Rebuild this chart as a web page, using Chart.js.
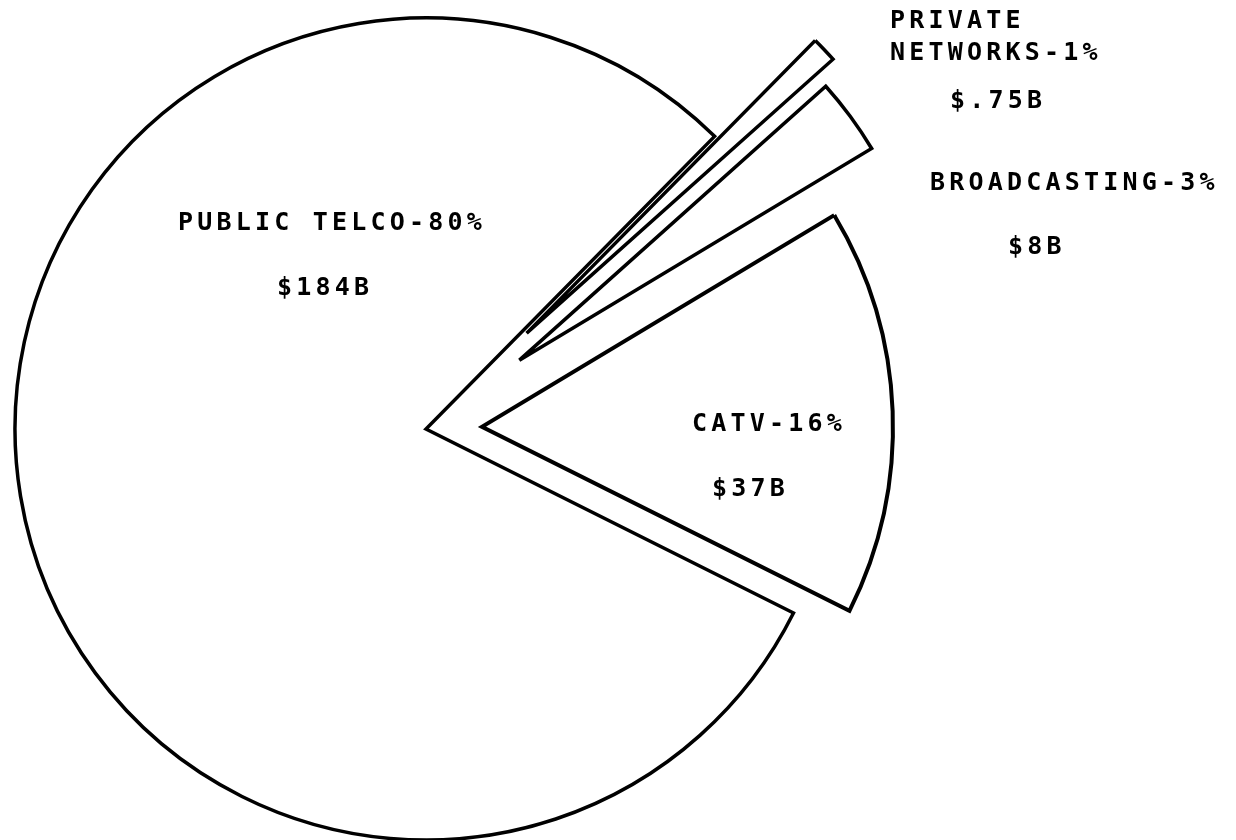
<!DOCTYPE html>
<html>
<head>
<meta charset="utf-8">
<script src="https://cdn.jsdelivr.net/npm/chart.js@4.4.1/dist/chart.umd.min.js"></script>
<style>
  html, body { margin: 0; padding: 0; background: #ffffff; }
  #wrap { position: relative; width: 1236px; height: 840px; }
</style>
</head>
<body>
<div id="wrap"><canvas id="c"></canvas></div>
<script>
// ---- data ----
const categories = ['PUBLIC TELCO', 'PRIVATE NETWORKS', 'BROADCASTING', 'CATV'];
const sharePct = [80, 1, 3, 16];
const revenue = ['$184B', '$.75B', '$8B', '$37B'];

// label line layout (text placement only)
const labelLines = [
  ['PUBLIC TELCO-' + sharePct[0] + '%'],
  ['PRIVATE', 'NETWORKS-' + sharePct[1] + '%'],
  ['BROADCASTING-' + sharePct[2] + '%'],
  ['CATV-' + sharePct[3] + '%']
];
const labelPos = [
  { x: 178, y: [230], vx: 277, vy: 295 },
  { x: 890, y: [28, 60], vx: 950, vy: 108 },
  { x: 930, y: [190], vx: 1008, vy: 254 },
  { x: 692, y: [431], vx: 712, vy: 496 }
];

// Exploded slices: move each arc rigidly by its "offset" along its mid-angle
// (Chart.js by default also enlarges the radius of offset arcs).
const ArcEl = Chart.ArcElement || Chart.registry.getElement('arc');
const baseArcDraw = ArcEl.prototype.draw;
ArcEl.prototype.draw = function (ctx) {
  const opts = this.options;
  const off = (opts && opts.offset) || 0;
  const half = (this.startAngle + this.endAngle) / 2;
  ctx.save();
  ctx.translate(Math.cos(half) * off, Math.sin(half) * off);
  this.options = Object.assign({}, opts, { offset: 0 });
  baseArcDraw.call(this, ctx);
  this.options = opts;
  ctx.restore();
};

const labelPlugin = {
  id: 'sliceLabels',
  afterDatasetsDraw(chart) {
    const ctx = chart.ctx;
    ctx.save();
    ctx.fillStyle = '#000';
    ctx.textBaseline = 'alphabetic';
    ctx.textAlign = 'left';
    ctx.font = 'bold 25px "DejaVu Sans Mono"';
    ctx.letterSpacing = '4.2px';
    categories.forEach((cat, i) => {
      const p = labelPos[i];
      labelLines[i].forEach((line, j) => ctx.fillText(line, p.x, p.y[j]));
      ctx.fillText(revenue[i], p.vx, p.vy);
    });
    ctx.restore();
  }
};

new Chart(document.getElementById('c'), {
  type: 'pie',
  data: {
    labels: categories,
    datasets: [{
      data: sharePct,
      backgroundColor: '#ffffff',
      borderColor: '#000000',
      borderWidth: [3.5, 3.5, 3.5, 4],
      borderJoinStyle: 'miter',
      offset: [0, 139, 116, 56],
      clip: false
    }]
  },
  options: {
    responsive: true,
    maintainAspectRatio: false,
    animation: false,
    events: [],
    rotation: 116.6,
    radius: 411,
    layout: { padding: { left: 0, right: 384, top: 18, bottom: 0 } },
    plugins: {
      legend: { display: false },
      tooltip: { enabled: false }
    }
  },
  plugins: [labelPlugin]
});
</script>
</body>
</html>
